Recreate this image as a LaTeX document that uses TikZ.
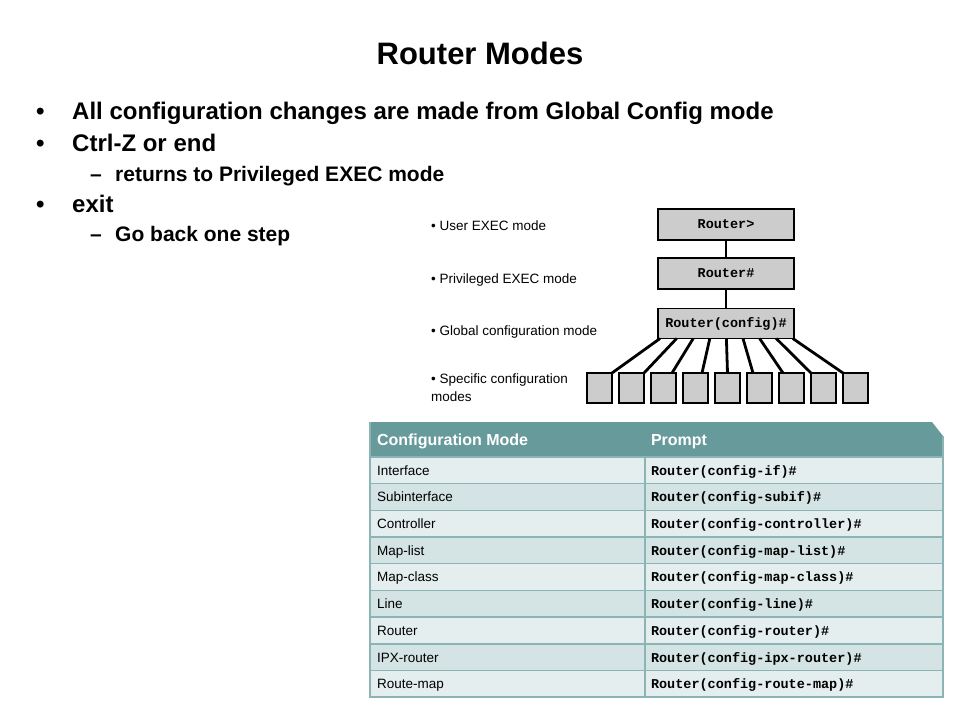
\documentclass[tikz,border=0pt]{standalone}
\usepackage{fontspec}
\setmainfont{Liberation Sans}
\setmonofont{Liberation Mono}
\newcommand\fsz[1]{\fontsize{#1}{#1}\selectfont}
\definecolor{headteal}{HTML}{679A9A}
\definecolor{rowlight}{HTML}{E5EEEE}
\definecolor{rowdark}{HTML}{D4E3E3}
\definecolor{gridteal}{HTML}{8DB4B4}
\definecolor{boxgray}{HTML}{CCCCCC}
\begin{document}
\begin{tikzpicture}[x=1pt,y=-1pt,
    every node/.style={inner sep=0pt,outer sep=0pt},
    mode/.style={draw,fill=boxgray,line width=1.4pt,minimum width=136pt,
      font=\fsz{13.5}\ttfamily\bfseries},
    sub/.style={draw,fill=boxgray,line width=1.4pt,minimum width=25pt,minimum height=30pt},
    link/.style={line width=2.8pt}]

  \useasboundingbox (0,0) rectangle (960,720);

  % title and bullets
  \node[font=\fsz{31}\bfseries] (title) at (480,53) {Router Modes};

  \begin{scope}[every node/.style={anchor=base west,inner sep=0pt,font=\fsz{24}\bfseries}]
    \node (b1)  at (36,119.5) {•};
    \node (t1)  at (72,119.5) {All configuration changes are made from Global Config mode};
    \node (b2)  at (36,151.5) {•};
    \node (t2)  at (72,151.5) {Ctrl-Z or end};
    \node (b3)  at (36,212.5) {•};
    \node (t3)  at (72,212.5) {exit};
  \end{scope}
  \begin{scope}[every node/.style={anchor=base west,inner sep=0pt,font=\fsz{21}\bfseries}]
    \node (d1)  at (90,181) {–};
    \node (s1)  at (115,181) {returns to Privileged EXEC mode};
    \node (d2)  at (90,241) {–};
    \node (s2)  at (115,241) {Go back one step};
  \end{scope}

  % mode hierarchy
  \begin{scope}[every node/.style={anchor=base west,inner sep=0pt,font=\fsz{13.5}}]
    \node (lu) at (431,230) {• User EXEC mode};
    \node (lp) at (431,283) {• Privileged EXEC mode};
    \node (lg) at (431,335) {• Global configuration mode};
    \node (ls) at (431,383) {• Specific configuration};
    \node (lm) at (431,401) {modes};
  \end{scope}

  \node[mode,minimum height=31pt] (user) at (726,224.5) {Router>};
  \node[mode,minimum height=31pt] (priv) at (726,273.5) {Router\#};
  \node[mode,minimum height=30pt] (conf) at (726,323.5) {Router(config)\#};

  \draw[link] (user) -- (priv);
  \draw[link] (priv) -- (conf);

  \foreach \i/\d in {1/12.5,2/12.5,3/8.5,4/6.5,5/0,6/-6.5,7/-8.5,8/-12.5,9/-12.5} {
    \node[sub] (m\i) at ({599.5+32*(\i-1)},388) {};
    \draw[link] ([xshift={2+16.6*(\i-1)}]conf.south west) -- ([xshift=\d]m\i.north);
  }

  % table
  \fill[headteal] (370,422) -- (932,422) -- (943,436) -- (943,457) -- (370,457) -- cycle;
  \node[anchor=base west,font=\fsz{16}\bfseries,text=white] (hmode) at (377,445.5) {Configuration Mode};
  \node[anchor=base west,font=\fsz{16}\bfseries,text=white] (hprompt) at (651,445.5) {Prompt};

  \foreach \cmode/\cprompt [count=\r] in {Interface/config-if,Subinterface/config-subif,
      Controller/config-controller,Map-list/config-map-list,Map-class/config-map-class,
      Line/config-line,Router/config-router,IPX-router/config-ipx-router,
      Route-map/config-route-map} {
    \pgfmathsetmacro\rowtop{457+(\r-1)*26.67}
    \ifodd\r \def\rowcol{rowlight}\else \def\rowcol{rowdark}\fi
    \fill[\rowcol] (370,\rowtop) rectangle (943,\rowtop+26.67);
    \draw[gridteal,line width=1.6pt] (370,\rowtop) -- (943,\rowtop);
    \node[anchor=base west,font=\fsz{13.5}] (c\r) at (377,\rowtop+18.3) {\cmode};
    \node[anchor=base west,font=\fsz{13.5}\ttfamily\bfseries] (p\r) at (651,\rowtop+18.3) {Router(\cprompt)\#};
  }
  \draw[gridteal,line width=1.6pt] (645,457) -- (645,697);
  \draw[gridteal,line width=1.6pt] (370,422) -- (370,697) -- (943,697) -- (943,436);

\end{tikzpicture}
\end{document}
